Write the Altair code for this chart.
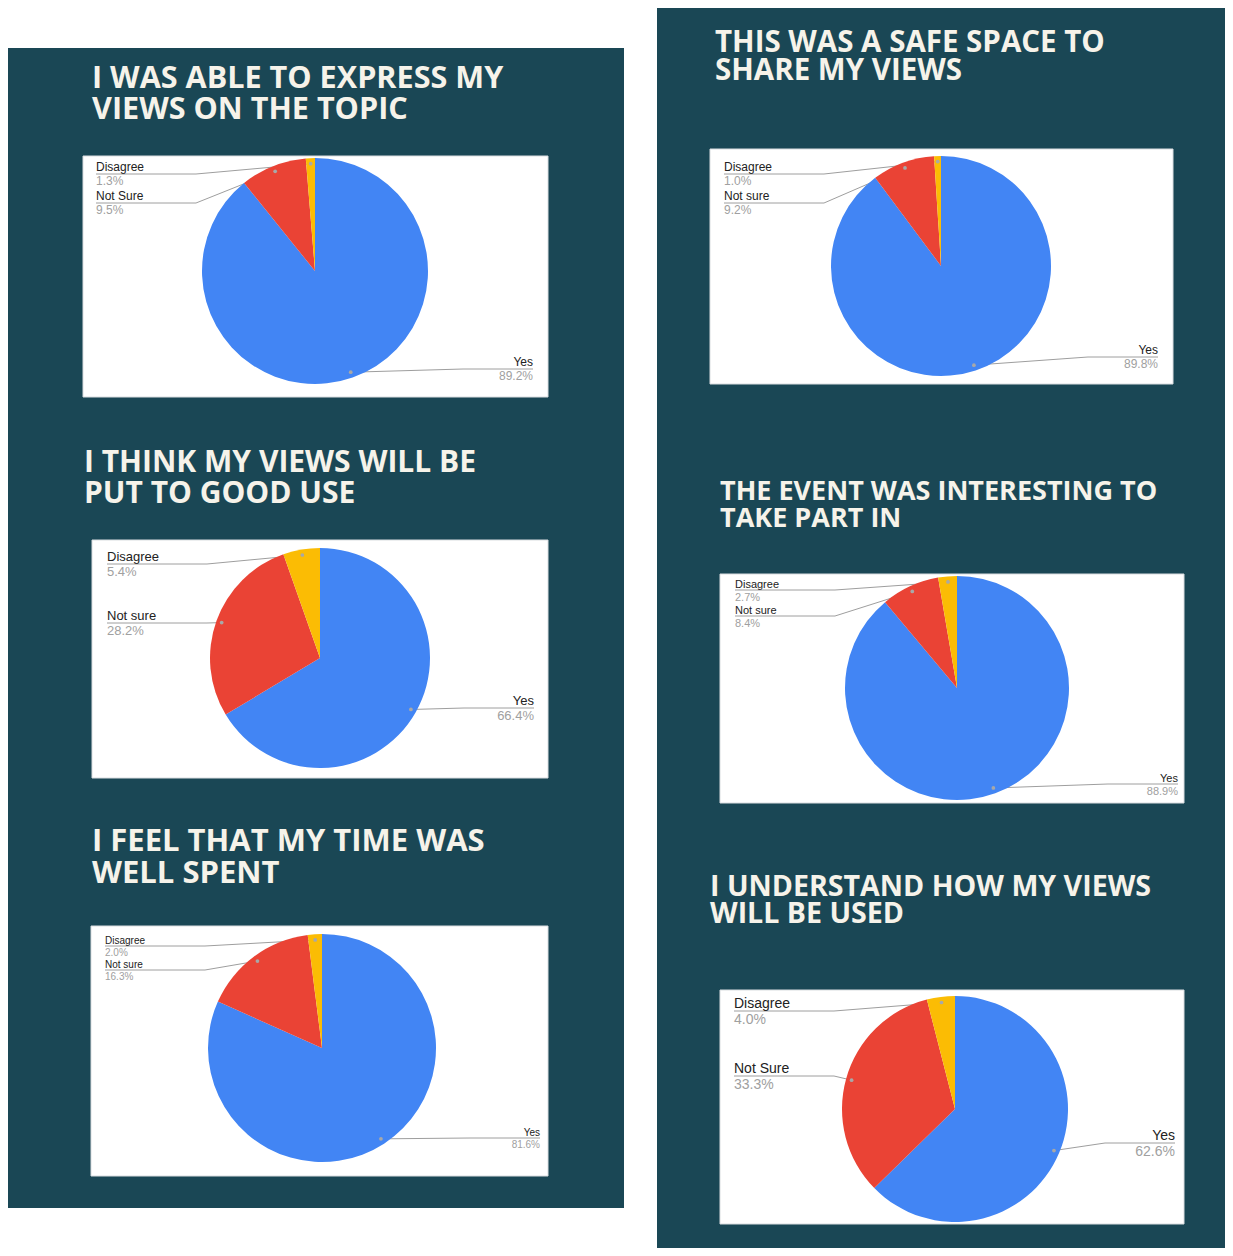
import altair as alt
import pandas as pd
import numpy as np

# ---------------- data ----------------
titles = [
    ["I WAS ABLE TO EXPRESS MY", "VIEWS ON THE TOPIC"],
    ["I THINK MY VIEWS WILL BE", "PUT TO GOOD USE"],
    ["I FEEL THAT MY TIME WAS", "WELL SPENT"],
    ["THIS WAS A SAFE SPACE TO", "SHARE MY VIEWS"],
    ["THE EVENT WAS INTERESTING TO", "TAKE PART IN"],
    ["I UNDERSTAND HOW MY VIEWS", "WILL BE USED"],
]
keys = ["yes", "notsure", "disagree"]
yes_names = ["Yes", "Yes", "Yes", "Yes", "Yes", "Yes"]
notsure_names = ["Not Sure", "Not sure", "Not sure", "Not sure", "Not sure", "Not Sure"]
disagree_names = ["Disagree", "Disagree", "Disagree", "Disagree", "Disagree", "Disagree"]
yes_pct = [89.2, 66.4, 81.6, 89.8, 88.9, 62.6]
notsure_pct = [9.5, 28.2, 16.3, 9.2, 8.4, 33.3]
disagree_pct = [1.3, 5.4, 2.0, 1.0, 2.7, 4.0]

# ---------------- layout (page pixels) ----------------
PANEL_COLOR = "#1a4755"
SLICE_COLORS = ["#4285f4", "#ea4335", "#fbbc04"]
PANELS = [(7, 624, 48, 1208), (657, 1240, 7, 1260)]
LAYOUT = [
    dict(box=(83, 548, 156, 397), pie=(315, 271, 113), tx=92, ty=(88, 119), tfs=30.6, lfs=12,
         lx=96, rx=533, ly=(369, 203, 174)),
    dict(box=(92, 548, 540, 778), pie=(320, 658, 110), tx=84, ty=(472, 503), tfs=30, lfs=13,
         lx=107, rx=534, ly=(708, 623, 564)),
    dict(box=(91, 548, 926, 1176), pie=(322, 1048, 114), tx=92, ty=(851, 883), tfs=31, lfs=10,
         lx=105, rx=540, ly=(1138, 970, 946)),
    dict(box=(710, 1173, 149, 384), pie=(941, 266, 110), tx=715, ty=(52, 80), tfs=29.5, lfs=12,
         lx=724, rx=1158, ly=(357, 203, 174)),
    dict(box=(720, 1184, 574, 803), pie=(957, 688, 112), tx=720, ty=(500, 527), tfs=27, lfs=11,
         lx=735, rx=1178, ly=(784, 616, 590)),
    dict(box=(720, 1184, 990, 1224), pie=(955, 1109, 113), tx=710, ty=(896, 923), tfs=28.6, lfs=14,
         lx=734, rx=1175, ly=(1143, 1076, 1011)),
]
W, H = 1217, 1240
XS = alt.Scale(domain=[8, 8 + W], nice=False, zero=False)
YS = alt.Scale(domain=[8, 8 + H], nice=False, zero=False, reverse=True)


def X(f):
    return alt.X(f, type="quantitative", scale=XS, axis=None)


def Y(f):
    return alt.Y(f, type="quantitative", scale=YS, axis=None)


# ---------------- build tables ----------------
panels_df = pd.DataFrame([dict(x=a, x2=b, y=c, y2=d) for a, b, c, d in PANELS])
boxes_df = pd.DataFrame([dict(x=L["box"][0], x2=L["box"][1], y=L["box"][2], y2=L["box"][3]) for L in LAYOUT])

title_rows = []
for i, L in enumerate(LAYOUT):
    for j in range(2):
        title_rows.append(dict(x=L["tx"], y=L["ty"][j], text=titles[i][j], fs=L["tfs"]))
titles_df = pd.DataFrame(title_rows)

line_rows, dot_rows, lname, lpct, rname, rpct = [], [], [], [], [], []
for i, L in enumerate(LAYOUT):
    vals = [yes_pct[i], notsure_pct[i], disagree_pct[i]]
    names = [yes_names[i], notsure_names[i], disagree_names[i]]
    tot = sum(vals)
    cx, cy, r = L["pie"]
    cum = 0.0
    for k in range(3):
        mid = (cum + vals[k] / 2) / tot
        cum += vals[k]
        a = 2 * np.pi * mid
        dx = cx + 0.95 * r * np.sin(a)
        dy = cy - 0.95 * r * np.cos(a)
        ly = L["ly"][k]
        lid = f"{i}-{k}"
        if k == 0:
            pts = [(L["rx"], ly), (L["rx"] - 70, ly), (dx, dy)]
        else:
            pts = [(L["lx"], ly), (min(L["lx"] + 100, dx), ly), (dx, dy)]
        for s, (px, py) in enumerate(pts):
            line_rows.append(dict(id=lid, seq=s, x=px, y=py))
        dot_rows.append(dict(x=dx, y=dy))
        off = max(2, round(L["lfs"] * 0.22))
        name_row = dict(y=ly - off, text=names[k], fs=L["lfs"])
        pct_row = dict(y=ly + 2, text=f"{vals[k]:.1f}%", fs=L["lfs"])
        if k == 0:
            rname.append(dict(x=L["rx"], **name_row))
            rpct.append(dict(x=L["rx"], **pct_row))
        else:
            lname.append(dict(x=L["lx"], **name_row))
            lpct.append(dict(x=L["lx"], **pct_row))

lines_df = pd.DataFrame(line_rows)
dots_df = pd.DataFrame(dot_rows)

# ---------------- layers ----------------
layers = []
layers.append(alt.Chart(panels_df).mark_rect(color=PANEL_COLOR).encode(
    x=X("x"), x2="x2", y=Y("y"), y2="y2"))
layers.append(alt.Chart(boxes_df).mark_rect(color="white", stroke="#d9dde0", strokeWidth=1).encode(
    x=X("x"), x2="x2", y=Y("y"), y2="y2"))
layers.append(alt.Chart(titles_df).mark_text(
    align="left", baseline="alphabetic", font="Open Sans", fontWeight="bold", color="#f6f3ea"
).encode(x=X("x"), y=Y("y"), text="text:N", size=alt.Size("fs:Q", scale=None, legend=None)))
layers.append(alt.Chart(lines_df).mark_line(color="#9e9e9e", strokeWidth=1).encode(
    x=X("x"), y=Y("y"), detail="id:N", order="seq:Q"))

for i, L in enumerate(LAYOUT):
    cx, cy, r = L["pie"]
    df = pd.DataFrame(dict(key=keys, val=[yes_pct[i], notsure_pct[i], disagree_pct[i]], ord=[0, 1, 2]))
    layers.append(alt.Chart(df).mark_arc(radius=r).encode(
        theta=alt.Theta("val:Q", stack="normalize"),
        color=alt.Color("key:N", scale=alt.Scale(domain=keys, range=SLICE_COLORS), legend=None),
        order=alt.Order("ord:Q"),
        x=alt.value(cx - 8), y=alt.value(cy - 8)))

layers.append(alt.Chart(dots_df).mark_circle(size=14, color="#a8a8a8", opacity=1).encode(
    x=X("x"), y=Y("y")))

for rows, align, base, col in [(lname, "left", "alphabetic", "#222222"),
                                (lpct, "left", "top", "#a0a0a0"),
                                (rname, "right", "alphabetic", "#222222"),
                                (rpct, "right", "top", "#a0a0a0")]:
    layers.append(alt.Chart(pd.DataFrame(rows)).mark_text(
        align=align, baseline=base, font="Liberation Sans", color=col
    ).encode(x=X("x"), y=Y("y"), text="text:N", size=alt.Size("fs:Q", scale=None, legend=None)))

chart = alt.layer(*layers).properties(
    width=W, height=H, padding=0, autosize=alt.AutoSizeParams(type="none"), background="white"
).configure_view(stroke=None)

chart.save("out.html", embed_options={"renderer": "svg", "actions": False})
